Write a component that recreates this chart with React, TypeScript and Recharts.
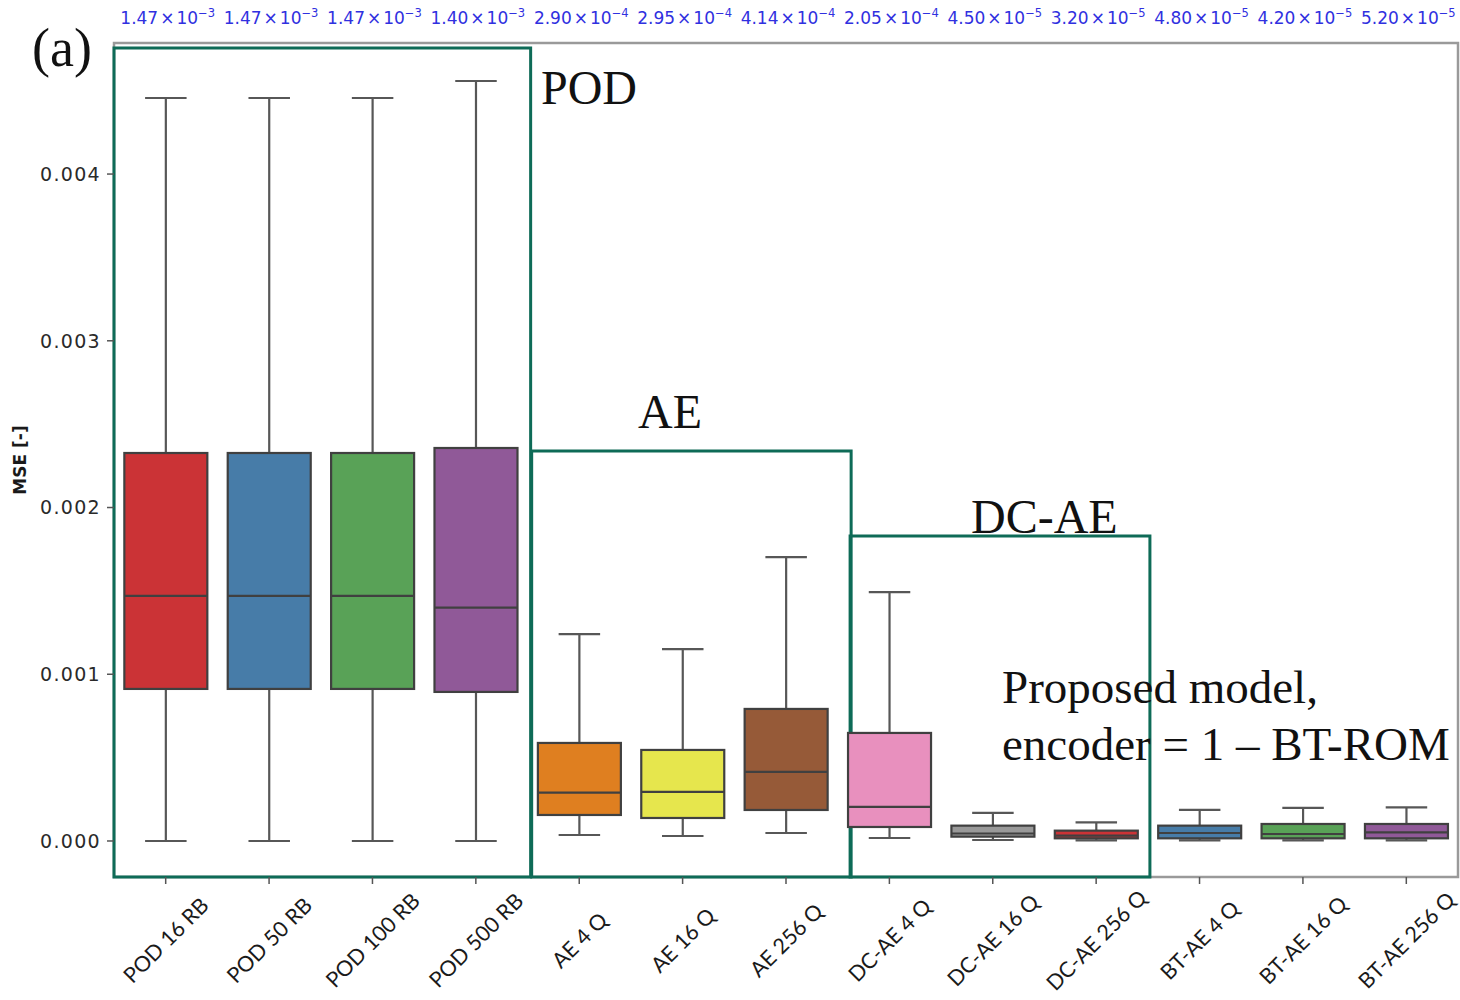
import React from "react";
import { ComposedChart, Bar, XAxis, YAxis, ReferenceArea } from "recharts";

const categories = [
  "POD 16 RB", "POD 50 RB", "POD 100 RB", "POD 500 RB",
  "AE 4 Q", "AE 16 Q", "AE 256 Q",
  "DC-AE 4 Q", "DC-AE 16 Q", "DC-AE 256 Q",
  "BT-AE 4 Q", "BT-AE 16 Q", "BT-AE 256 Q",
];
const whiskerLow = [0, 0, 0, 0, 0.000036, 0.00003, 0.000048, 0.000018, 0.000006, 0.000004, 0.000004, 0.000004, 0.000004];
const q1 = [0.000912, 0.000912, 0.000912, 0.000894, 0.000156, 0.000138, 0.000186, 0.000084, 0.000026, 0.000016, 0.000016, 0.000016, 0.000016];
const medians = [0.00147, 0.00147, 0.00147, 0.0014, 0.00029, 0.000295, 0.000414, 0.000205, 0.000045, 0.000032, 0.000048, 0.000042, 0.000052];
const q3 = [0.002327, 0.002327, 0.002327, 0.002357, 0.000588, 0.000546, 0.000792, 0.000648, 0.000092, 0.000062, 0.000092, 0.000102, 0.000102];
const whiskerHigh = [0.004456, 0.004456, 0.004456, 0.004558, 0.001241, 0.001151, 0.001703, 0.001493, 0.000168, 0.000112, 0.000186, 0.000198, 0.000202];
const boxColors = ["#CB3336", "#477CA8", "#59A257", "#905998", "#DF7F20", "#E6E64D", "#965A38", "#E890BE", "#999999", "#CB3336", "#477CA8", "#59A257", "#905998"];
const topMantissa = ["1.47", "1.47", "1.47", "1.40", "2.90", "2.95", "4.14", "2.05", "4.50", "3.20", "4.80", "4.20", "5.20"];
const topExponent = ["−3", "−3", "−3", "−3", "−4", "−4", "−4", "−4", "−5", "−5", "−5", "−5", "−5"];
const yTicks = [0, 0.001, 0.002, 0.003, 0.004];
const yDomain = [-0.000216, 0.004786];

// group frames: [x1, x2] in category units, top value
const frames = [
  { x1: 0.0, x2: 4.03, top: 0.004756 },
  { x1: 4.04, x2: 7.13, top: 0.002339 },
  { x1: 7.12, x2: 10.02, top: 0.001829 },
];

const data = categories.map((name, i) => ({
  name,
  pos: i + 0.5,
  low: whiskerLow[i],
  q1: q1[i],
  median: medians[i],
  q3: q3[i],
  high: whiskerHigh[i],
  color: boxColors[i],
  range: [whiskerLow[i], whiskerHigh[i]],
}));

const LINE = "#404040";
const WHISK = "#575757";
const GREEN = "#0E6B57";

const BoxShape = (props: any) => {
  const { x, y, width, height, payload } = props;
  const top = Math.min(y, y + height);
  const bottom = Math.max(y, y + height);
  const hi = payload.high;
  const lo = payload.low;
  const py = (v: number) => top + ((bottom - top) * (hi - v)) / (hi - lo);
  const cx = x + width / 2;
  const capW = width / 2;
  return (
    <g>
      <line x1={cx} x2={cx} y1={py(hi)} y2={py(payload.q3)} stroke={WHISK} strokeWidth={2.2} />
      <line x1={cx} x2={cx} y1={py(payload.q1)} y2={py(lo)} stroke={WHISK} strokeWidth={2.2} />
      <line x1={cx - capW / 2} x2={cx + capW / 2} y1={py(hi)} y2={py(hi)} stroke={WHISK} strokeWidth={2.2} />
      <line x1={cx - capW / 2} x2={cx + capW / 2} y1={py(lo)} y2={py(lo)} stroke={WHISK} strokeWidth={2.2} />
      <rect
        x={x}
        y={py(payload.q3)}
        width={width}
        height={Math.max(py(payload.q1) - py(payload.q3), 1)}
        fill={payload.color}
        stroke={LINE}
        strokeWidth={2.2}
      />
      <line x1={x} x2={x + width} y1={py(payload.median)} y2={py(payload.median)} stroke={LINE} strokeWidth={2.2} />
    </g>
  );
};

const BottomTick = (props: any) => {
  const { x, payload } = props;
  const cy = 940;
  return (
    <g>
      <line x1={x} x2={x} y1={877} y2={884} stroke="#555" strokeWidth={1.5} />
      <text
        x={x}
        y={cy}
        textAnchor="middle"
        dominantBaseline="central"
        transform={`rotate(-45, ${x}, ${cy})`}
        fontFamily="Lato, 'Open Sans', sans-serif"
        fontSize={21.5}
        fill="#1a1a1a"
      >
        {payload.value}
      </text>
    </g>
  );
};

const TopTick = (props: any) => {
  const { x, index } = props;
  return (
    <text x={x + 2} y={24} textAnchor="middle" fontFamily="'DejaVu Sans', sans-serif" fontSize={17} fill="#3030E0">
      <tspan>{topMantissa[index]}</tspan>
      <tspan dx={2}>×</tspan>
      <tspan dx={2}>10</tspan>
      <tspan dy={-7} fontSize={11.5}>{topExponent[index]}</tspan>
    </text>
  );
};

export default function App() {
  return (
    <div style={{ position: "absolute", left: 0, top: 0, width: 1460, height: 1000, background: "#fff" }}>
      <ComposedChart
        width={1460}
        height={1000}
        data={data}
        margin={{ top: 13, right: 2, bottom: 23, left: 34 }}
        barCategoryGap="10%"
      >
        <XAxis
          xAxisId="cat"
          dataKey="name"
          type="category"
          height={100}
          interval={0}
          tickLine={false}
          axisLine={false}
          tick={<BottomTick />}
        />
        <XAxis
          xAxisId="top"
          dataKey="name"
          type="category"
          orientation="top"
          height={30}
          interval={0}
          tickLine={false}
          axisLine={false}
          tick={<TopTick />}
        />
        <XAxis xAxisId="num" dataKey="pos" type="number" domain={[0, 13]} hide allowDataOverflow />
        <YAxis
          type="number"
          domain={yDomain}
          ticks={yTicks}
          allowDataOverflow
          width={80}
          axisLine={false}
          tickSize={7}
          tickMargin={6}
          tickLine={{ stroke: "#555", strokeWidth: 1.5 }}
          tick={{ fill: "#2a2a2a", fontSize: 19, fontFamily: "'DejaVu Sans', sans-serif", letterSpacing: 1.3 }}
          tickFormatter={(v: number) => v.toFixed(3)}
          label={{
            value: "MSE [-]",
            angle: -90,
            position: "insideLeft",
            offset: -14,
            style: { fill: "#1a1a1a", fontSize: 17, fontWeight: "bold", fontFamily: "'DejaVu Sans', sans-serif", textAnchor: "middle" },
          }}
        />
        <ReferenceArea
          xAxisId="num"
          x1={0}
          x2={13}
          y1={yDomain[0]}
          y2={yDomain[1]}
          fill="none"
          stroke="#9a9a9a"
          strokeWidth={2.5}
          ifOverflow="visible"
        />
        <Bar xAxisId="cat" dataKey="range" shape={<BoxShape />} isAnimationActive={false} />
        {frames.map((f, i) => (
          <ReferenceArea
            key={i}
            xAxisId="num"
            x1={f.x1}
            x2={f.x2}
            y1={yDomain[0]}
            y2={f.top}
            fill="none"
            stroke={GREEN}
            strokeWidth={3}
            ifOverflow="visible"
          />
        ))}
      </ComposedChart>
      <svg
        width={1460}
        height={1000}
        style={{ position: "absolute", left: 0, top: 0, pointerEvents: "none" }}
      >
        <g fontFamily="'Liberation Serif', 'Times New Roman', serif" fill="#111">
          <text x={32} y={66} fontSize={54}>(a)</text>
          <text x={541} y={104} fontSize={48}>POD</text>
          <text x={638} y={428} fontSize={48}>AE</text>
          <text x={971} y={533} fontSize={48}>DC-AE</text>
          <text x={1002} y={703} fontSize={47}>Proposed model,</text>
          <text x={1002} y={760} fontSize={47}>encoder = 1 – BT-ROM</text>
        </g>
      </svg>
    </div>
  );
}
